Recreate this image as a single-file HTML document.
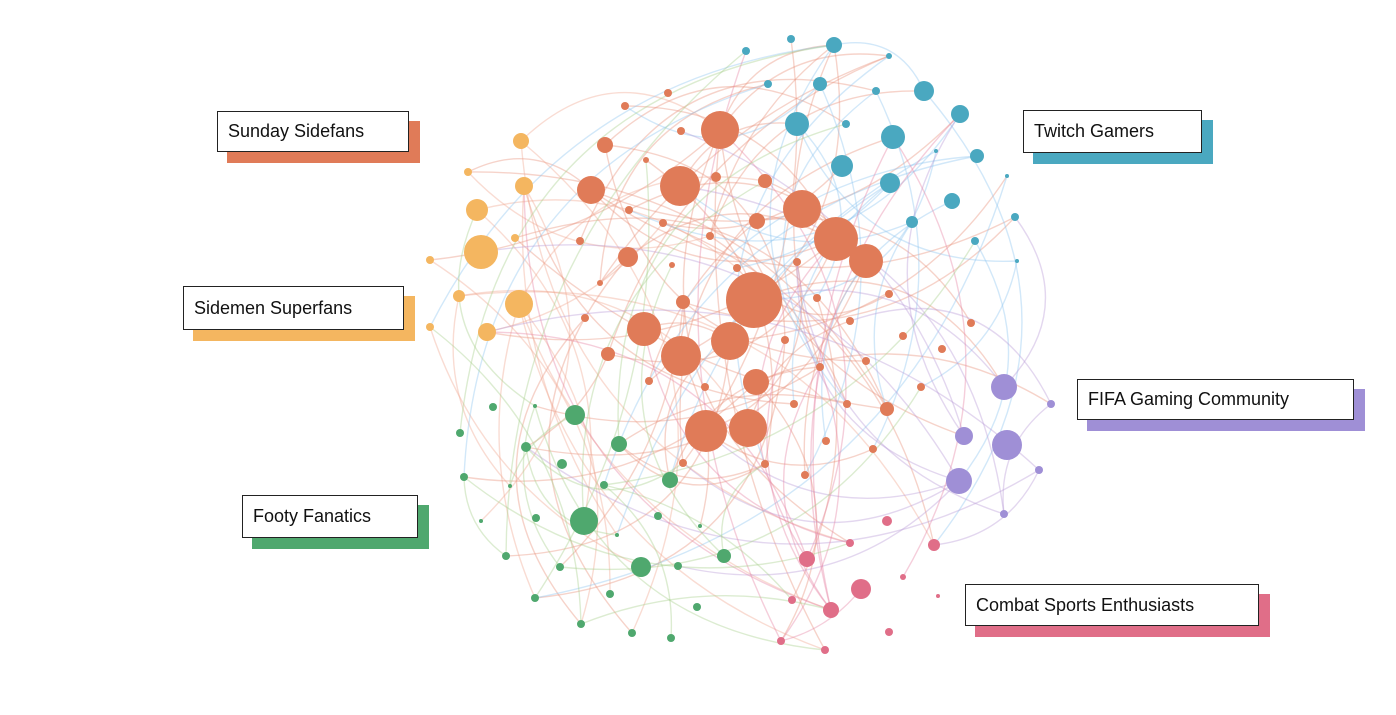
<!DOCTYPE html>
<html><head><meta charset="utf-8"><style>
html,body{margin:0;padding:0;background:#fff;width:1396px;height:715px;overflow:hidden;font-family:"Liberation Sans",sans-serif}
.lb{position:absolute;}
.lb .sh{position:absolute;left:10px;top:10px;right:-11px;bottom:-11px}
.lb .bx{position:absolute;left:0;top:0;right:0;bottom:0;background:#fff;border:1.5px solid #222;box-sizing:border-box;font-size:18px;color:#111;padding-left:10px;display:flex;align-items:center}
</style></head><body>
<svg id="s" width="1396" height="715" style="position:absolute;left:0;top:0"><g id="e" fill="none"></g><g id="n"></g></svg>

<div class="lb" style="left:217px;top:111px;width:192px;height:41px"><div class="sh" style="background:#e07b58"></div><div class="bx">Sunday Sidefans</div></div>
<div class="lb" style="left:1023px;top:110px;width:179px;height:43px"><div class="sh" style="background:#4aa8c0"></div><div class="bx">Twitch Gamers</div></div>
<div class="lb" style="left:183px;top:286px;width:221px;height:44px"><div class="sh" style="background:#f4b660"></div><div class="bx">Sidemen Superfans</div></div>
<div class="lb" style="left:1077px;top:379px;width:277px;height:41px"><div class="sh" style="background:#9f8fd6"></div><div class="bx">FIFA Gaming Community</div></div>
<div class="lb" style="left:242px;top:495px;width:176px;height:43px"><div class="sh" style="background:#4fa86e"></div><div class="bx">Footy Fanatics</div></div>
<div class="lb" style="left:965px;top:584px;width:294px;height:42px"><div class="sh" style="background:#e06e88"></div><div class="bx">Combat Sports Enthusiasts</div></div>

<script>
var C={o:"#e07b58",y:"#f4b660",t:"#4aa8c0",p:"#9f8fd6",k:"#e06e88",g:"#4fa86e"};
var EC={o:"#e8907a",y:"#f0a890",t:"#8ec5f0",p:"#b99ad8",k:"#e784a6",g:"#a8d08d"};
var N={
o:[[720,130,19],[605,145,8],[625,106,4],[668,93,4],[681,131,4],[646,160,3],[591,190,14],[680,186,20],[716,177,5],[765,181,7],[629,210,4],[663,223,4],[757,221,8],[802,209,19],[836,239,22],[866,261,17],[580,241,4],[628,257,10],[710,236,4],[672,265,3],[737,268,4],[797,262,4],[600,283,3],[754,300,28],[683,302,7],[817,298,4],[889,294,4],[585,318,4],[644,329,17],[730,341,19],[681,356,20],[608,354,7],[785,340,4],[850,321,4],[903,336,4],[971,323,4],[942,349,4],[866,361,4],[820,367,4],[756,382,13],[649,381,4],[705,387,4],[921,387,4],[794,404,4],[847,404,4],[887,409,7],[706,431,21],[748,428,19],[826,441,4],[873,449,4],[765,464,4],[805,475,4],[683,463,4]],
y:[[521,141,8],[468,172,4],[524,186,9],[477,210,11],[515,238,4],[481,252,17],[430,260,4],[459,296,6],[519,304,14],[430,327,4],[487,332,9]],
t:[[746,51,4],[791,39,4],[834,45,8],[889,56,3],[768,84,4],[820,84,7],[876,91,4],[924,91,10],[960,114,9],[797,124,12],[846,124,4],[893,137,12],[977,156,7],[936,151,2],[842,166,11],[890,183,10],[1007,176,2],[952,201,8],[912,222,6],[1015,217,4],[975,241,4],[1017,261,2]],
p:[[1004,387,13],[1051,404,4],[964,436,9],[1007,445,15],[1039,470,4],[959,481,13],[1004,514,4]],
k:[[887,521,5],[934,545,6],[850,543,4],[807,559,8],[903,577,3],[861,589,10],[792,600,4],[938,596,2],[831,610,8],[889,632,4],[781,641,4],[825,650,4]],
g:[[493,407,4],[535,406,2],[575,415,10],[460,433,4],[526,447,5],[619,444,8],[562,464,5],[464,477,4],[510,486,2],[604,485,4],[670,480,8],[536,518,4],[584,521,14],[658,516,4],[481,521,2],[617,535,2],[700,526,2],[724,556,7],[506,556,4],[641,567,10],[560,567,4],[678,566,4],[535,598,4],[610,594,4],[697,607,4],[581,624,4],[632,633,4],[671,638,4]]};
var seed=11;function r(){seed=(seed*16807)%2147483647;return seed/2147483647;}
var all=[];for(var k in N)N[k].forEach(function(n){all.push([n[0],n[1],n[2],k]);});
var e="",cnt={o:70,y:20,t:28,p:16,k:16,g:22};
for(var k in cnt){for(var i=0;i<cnt[k];i++){var L=N[k];var a=L[Math.floor(r()*L.length)];if(a[2]<6&&r()<.7)a=L[Math.floor(r()*L.length)];var b=all[Math.floor(r()*all.length)];
var dx=b[0]-a[0],dy=b[1]-a[1];var d=Math.sqrt(dx*dx+dy*dy);if(d<60)continue;var o=(r()<.5?-1:1)*(0.15+r()*0.3)*d;
var mx=(a[0]+b[0])/2-dy/d*o,my=(a[1]+b[1])/2+dx/d*o;
e+='<path d="M'+a[0]+' '+a[1]+'Q'+mx.toFixed(1)+' '+my.toFixed(1)+' '+b[0]+' '+b[1]+'" stroke="'+EC[k]+'" stroke-opacity="0.4" stroke-width="1.4"/>';}}
document.getElementById("e").innerHTML=e;
var s="";all.forEach(function(n){s+='<circle cx="'+n[0]+'" cy="'+n[1]+'" r="'+n[2]+'" fill="'+C[n[3]]+'"/>';});
document.getElementById("n").innerHTML=s;
</script>
</body></html>
